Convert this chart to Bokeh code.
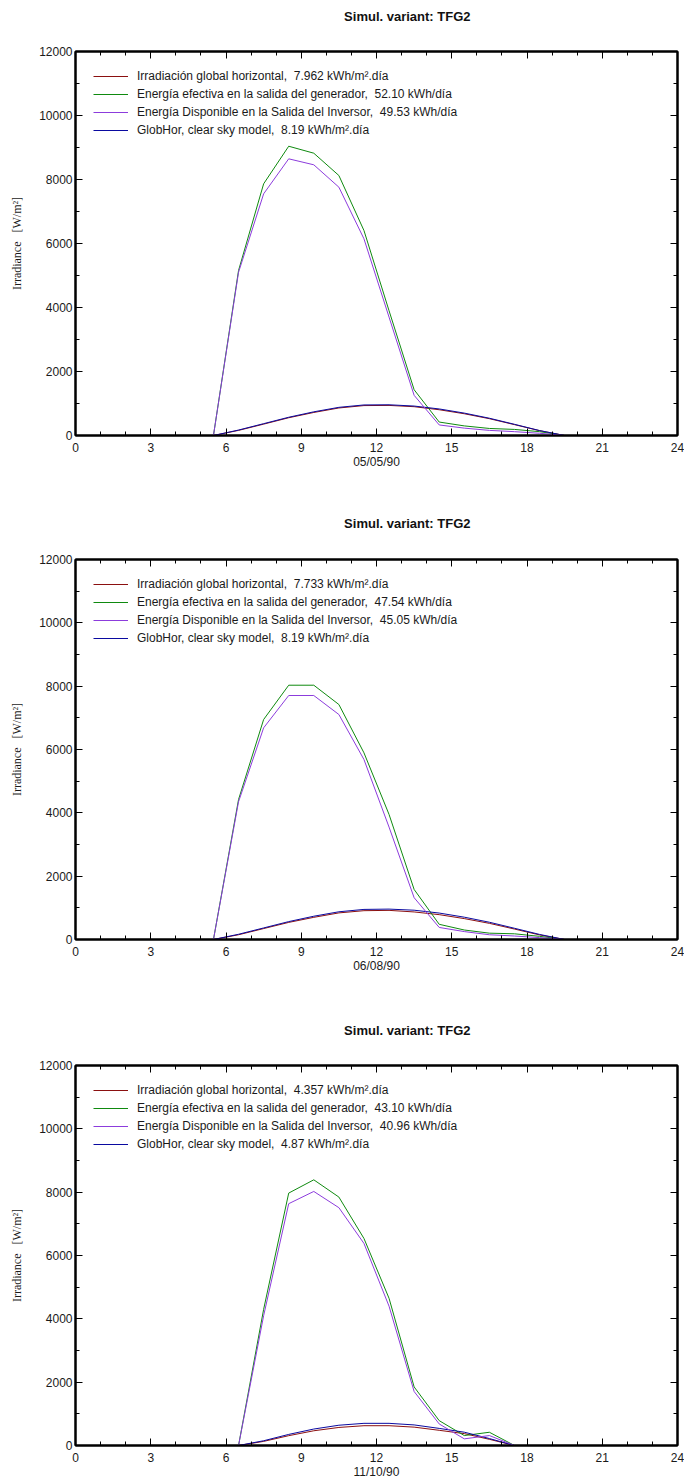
from bokeh.plotting import figure
from bokeh.models import Range1d, FixedTicker, LinearAxis, Legend, LegendItem, Label
from bokeh.layouts import column
from bokeh.embed import file_html
from bokeh.resources import INLINE

hours = [0.5, 1.5, 2.5, 3.5, 4.5, 5.5, 6.5, 7.5, 8.5, 9.5, 10.5, 11.5,
         12.5, 13.5, 14.5, 15.5, 16.5, 17.5, 18.5, 19.5, 20.5, 21.5, 22.5]

x_ticks = [0, 3, 6, 9, 12, 15, 18, 21, 24]
x_minor = [1, 2, 4, 5, 7, 8, 10, 11, 13, 14, 16, 17, 19, 20, 22, 23]
y_ticks = [0, 2000, 4000, 6000, 8000, 10000, 12000]
y_minor = [1000, 3000, 5000, 7000, 9000, 11000]

series_names = ["Irradiación global horizontal", "Energía efectiva en la salida del generador",
                "Energía Disponible en la Salida del Inversor", "GlobHor, clear sky model"]

# Panel 1 - 05/05/90
date1 = "05/05/90"
totals1 = ["7.962 kWh/m².día", "52.10 kWh/día", "49.53 kWh/día", "8.19 kWh/m².día"]
ghor1 = [0, 0, 0, 0, 0, 0, 160, 355, 555, 720, 860, 935, 940, 900, 805, 680, 525, 340, 150, 0, 0, 0, 0]
earray1 = [0, 0, 0, 0, 0, 0, 5156, 7865, 9040, 8822, 8125, 6406, 3900, 1430, 420, 300, 220, 190, 120, 0, 0, 0, 0]
einv1 = [0, 0, 0, 0, 0, 0, 5100, 7552, 8646, 8459, 7760, 6146, 3700, 1255, 330, 230, 160, 120, 70, 0, 0, 0, 0]
clear1 = [0, 0, 0, 0, 0, 0, 170, 370, 570, 740, 880, 955, 960, 920, 830, 700, 540, 350, 155, 0, 0, 0, 0]

# Panel 2 - 06/08/90
date2 = "06/08/90"
totals2 = ["7.733 kWh/m².día", "47.54 kWh/día", "45.05 kWh/día", "8.19 kWh/m².día"]
ghor2 = [0, 0, 0, 0, 0, 0, 150, 345, 540, 700, 840, 910, 920, 870, 785, 660, 510, 330, 145, 0, 0, 0, 0]
earray2 = [0, 0, 0, 0, 0, 0, 4421, 6947, 8030, 8030, 7421, 5895, 3950, 1580, 480, 300, 200, 180, 100, 0, 0, 0, 0]
einv2 = [0, 0, 0, 0, 0, 0, 4350, 6684, 7705, 7705, 7105, 5684, 3550, 1320, 380, 250, 150, 110, 60, 0, 0, 0, 0]
clear2 = [0, 0, 0, 0, 0, 0, 165, 365, 565, 735, 875, 950, 960, 925, 835, 705, 545, 355, 160, 0, 0, 0, 0]

# Panel 3 - 11/10/90
date3 = "11/10/90"
totals3 = ["4.357 kWh/m².día", "43.10 kWh/día", "40.96 kWh/día", "4.87 kWh/m².día"]
ghor3 = [0, 0, 0, 0, 0, 0, 0, 130, 310, 465, 570, 625, 625, 580, 480, 375, 195, 0, 0, 0, 0, 0, 0]
earray3 = [0, 0, 0, 0, 0, 0, 0, 4300, 7971, 8390, 7845, 6538, 4650, 1850, 785, 314, 418, 0, 0, 0, 0, 0, 0]
einv3 = [0, 0, 0, 0, 0, 0, 0, 4100, 7636, 8023, 7510, 6381, 4400, 1705, 680, 210, 314, 0, 0, 0, 0, 0, 0]
clear3 = [0, 0, 0, 0, 0, 0, 0, 150, 350, 520, 640, 700, 700, 650, 540, 420, 220, 0, 0, 0, 0, 0, 0]

title_text = "Simul. variant: TFG2"
y_label = "Irradiance\u00a0\u00a0\u00a0[W/m²]"

COLORS = ["#8b1010", "#0f8a0f", "#8c3cdc", "#0a0aa0"]
FONT = "Liberation Sans"
W = 684


def make_title(h=32):
    t = figure(width=W, height=h, output_backend="svg", toolbar_location=None,
               x_range=Range1d(0, W), y_range=Range1d(0, h),
               min_border_left=0, min_border_right=0, min_border_top=0, min_border_bottom=0,
               x_axis_location=None, y_axis_location=None)
    t.grid.visible = False
    t.outline_line_color = None
    t.background_fill_color = "white"
    t.border_fill_color = "white"
    t.add_layout(Label(x=377, y=h / 2, text=title_text, text_align="center",
                       text_baseline="middle", text_font=FONT, text_font_style="bold",
                       text_font_size="13px", text_color="#111111"))
    return t


def make_panel(date, totals, data, top, frame_h, bottom):
    H = top + frame_h + bottom
    p = figure(width=W, height=H, output_backend="svg", toolbar_location=None,
               x_range=Range1d(0, 24), y_range=Range1d(0, 12000),
               min_border_left=75, min_border_right=7, min_border_top=top,
               min_border_bottom=bottom, x_axis_location=None, y_axis_location=None)
    p.grid.visible = False
    p.outline_line_color = "black"
    p.outline_line_width = 2
    p.background_fill_color = "white"
    p.border_fill_color = "white"

    xb = LinearAxis(ticker=FixedTicker(ticks=x_ticks, minor_ticks=x_minor), axis_label=date)
    yl = LinearAxis(ticker=FixedTicker(ticks=y_ticks, minor_ticks=y_minor), axis_label=y_label)
    xt = LinearAxis(ticker=FixedTicker(ticks=x_ticks, minor_ticks=x_minor),
                    major_label_overrides={t: "" for t in x_ticks})
    yr = LinearAxis(ticker=FixedTicker(ticks=y_ticks, minor_ticks=y_minor),
                    major_label_overrides={t: "" for t in y_ticks})
    for ax in (xb, yl, xt, yr):
        ax.axis_line_color = "black"
        ax.axis_line_width = 2
        ax.major_tick_in = 7
        ax.major_tick_out = 0
        ax.minor_tick_in = 4
        ax.minor_tick_out = 0
        ax.major_tick_line_color = "black"
        ax.minor_tick_line_color = "black"
        ax.major_label_text_font = FONT
        ax.major_label_text_font_size = "12px"
        ax.major_label_text_color = "#1a1a1a"
    xb.major_label_standoff = 7
    xb.axis_label_standoff = 0
    xb.axis_label_text_font = FONT
    xb.axis_label_text_font_size = "12px"
    xb.axis_label_text_font_style = "normal"
    xb.axis_label_text_color = "#1a1a1a"
    yl.major_label_standoff = 3
    yl.axis_label_standoff = 12
    yl.axis_label_text_font = "Liberation Serif"
    yl.axis_label_text_font_size = "12px"
    yl.axis_label_text_font_style = "normal"
    yl.axis_label_text_color = "#1a1a1a"
    xt.major_label_standoff = 0
    xt.major_label_text_font_size = "1px"
    yr.major_label_standoff = 0
    yr.major_label_text_font_size = "1px"
    p.add_layout(xb, "below")
    p.add_layout(yl, "left")
    p.add_layout(xt, "above")
    p.add_layout(yr, "right")

    ghor, earray, einv, clear = data
    r_ghor = p.line(hours, ghor, line_color=COLORS[0], line_width=1)
    r_earr = p.line(hours, earray, line_color=COLORS[1], line_width=1)
    r_clear = p.line(hours, clear, line_color=COLORS[3], line_width=1)
    r_einv = p.line(hours, einv, line_color=COLORS[2], line_width=1)
    rends = [r_ghor, r_earr, r_einv, r_clear]
    items = [LegendItem(label=f"{n},  {t}", renderers=[r]) for n, t, r in zip(series_names, totals, rends)]
    leg = Legend(items=items, location="top_left", margin=18, padding=8,
                 border_line_color=None, background_fill_alpha=0,
                 glyph_width=35, glyph_height=14, label_height=14, spacing=4,
                 label_standoff=9, label_text_font=FONT, label_text_font_size="12px",
                 label_text_color="#1a1a1a")
    p.add_layout(leg, "center")
    return p


t1 = make_title()
p1 = make_panel(date1, totals1, (ghor1, earray1, einv1, clear1), 19, 384, 72)
t2 = make_title()
p2 = make_panel(date2, totals2, (ghor2, earray2, einv2, clear2), 20, 380, 75)
t3 = make_title()
p3 = make_panel(date3, totals3, (ghor3, earray3, einv3, clear3), 19, 380, 38)

layout = column(t1, p1, t2, p2, t3, p3, spacing=0)
open("out.html", "w").write(file_html(layout, INLINE))
